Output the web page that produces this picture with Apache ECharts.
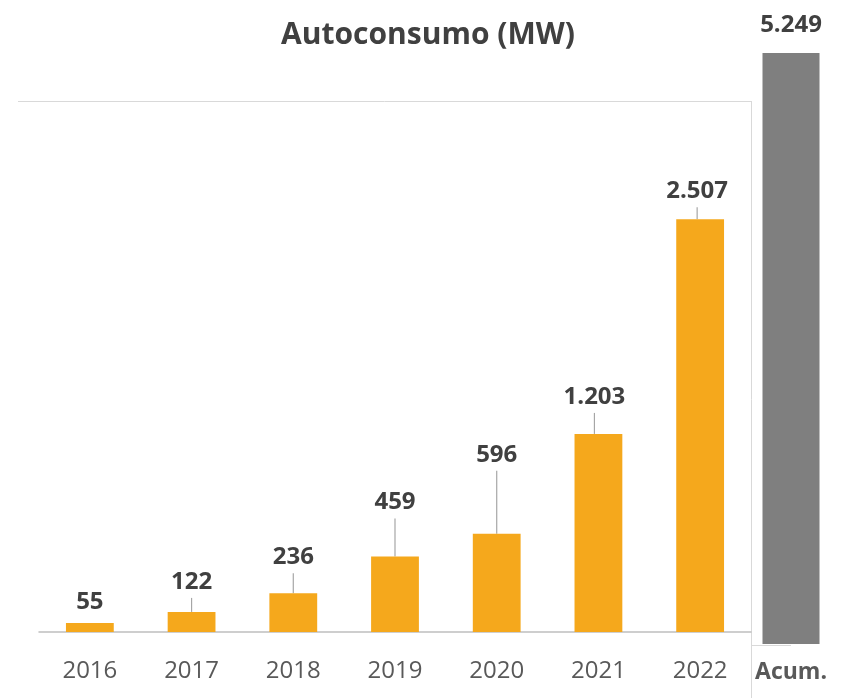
<!DOCTYPE html>
<html>
<head>
<meta charset="utf-8">
<script src="https://cdn.jsdelivr.net/npm/echarts@6/dist/echarts.min.js"></script>
<style>
html,body{margin:0;padding:0;background:#fff;}
#chart{width:841px;height:698px;}
</style>
</head>
<body>
<div id="chart"></div>
<script>
// ---- data ----
const titleText = 'Autoconsumo (MW)';
const categories = ['2016', '2017', '2018', '2019', '2020', '2021', '2022'];
const values = [55, 122, 236, 459, 596, 1203, 2507];
const accumCategory = ['Acum.'];
const accumValues = [5249];
// label placement (px) as in the reference (moved labels with leader lines)
const labelLift = [5, 14, 20, 38, 63, 21, 12];
const labelShift = [0, 0, 0, 0, 0, -4, -3];

function fmt(v) {
  return String(v).replace(/\B(?=(\d{3})+(?!\d))/g, '.');
}

const FONT = '"Open Sans", sans-serif';
const chart = echarts.init(document.getElementById('chart'));

const barData = values.map((v, i) => ({
  value: v,
  labelLine: { show: labelLift[i] > 8 }
}));

const option = {
  animation: false,
  backgroundColor: '#ffffff',
  title: {
    text: titleText,
    left: 423,
    textAlign: 'center',
    top: 15,
    textStyle: { fontFamily: FONT, fontSize: 30, fontWeight: 'bold', color: '#404040' }
  },
  grid: [
    { left: 39, right: 90, top: 101, bottom: 66, containLabel: false },
    { left: 751, width: 80, top: 53, bottom: 54, containLabel: false }
  ],
  xAxis: [
    {
      type: 'category', gridIndex: 0, data: categories,
      axisLine: { show: true, lineStyle: { color: '#BFBFBF', width: 1.5 } },
      axisTick: { show: false },
      axisLabel: { margin: 27, fontFamily: FONT, fontSize: 24, color: '#595959' }
    },
    {
      type: 'category', gridIndex: 1, data: accumCategory,
      axisLine: { show: false },
      axisTick: { show: false },
      axisLabel: { margin: 17, fontFamily: FONT, fontSize: 23, fontWeight: 'bold', color: '#595959' }
    }
  ],
  yAxis: [
    { type: 'value', gridIndex: 0, min: 0, max: 3225, show: false, splitLine: { show: false } },
    { type: 'value', gridIndex: 1, min: 0, max: 5249, show: false, splitLine: { show: false } }
  ],
  series: [
    {
      type: 'bar', xAxisIndex: 0, yAxisIndex: 0, data: barData,
      barWidth: '47%',
      itemStyle: { color: '#F5A81C' },
      label: {
        show: true, position: 'top', distance: 0,
        formatter: p => fmt(p.value),
        fontFamily: FONT, fontSize: 24, fontWeight: 'bold', color: '#404040',
        lineHeight: 32, padding: [4, 0, 0, 0]
      },
      labelLayout: p => ({ dy: -labelLift[p.dataIndex], dx: labelShift[p.dataIndex] }),
      labelLine: { show: true, lineStyle: { color: '#A6A6A6', width: 1.2 } }
    },
    {
      type: 'bar', xAxisIndex: 1, yAxisIndex: 1, data: accumValues,
      barWidth: 57,
      itemStyle: { color: '#7F7F7F' },
      label: {
        show: true, position: 'top', distance: 16,
        formatter: p => fmt(p.value),
        fontFamily: FONT, fontSize: 24, fontWeight: 'bold', color: '#404040', lineHeight: 24
      }
    }
  ],
  graphic: [
    { type: 'line', shape: { x1: 18, y1: 101.5, x2: 751, y2: 101.5 }, style: { stroke: '#D9D9D9', lineWidth: 1 } },
    { type: 'line', shape: { x1: 751.5, y1: 101, x2: 751.5, y2: 698 }, style: { stroke: '#D9D9D9', lineWidth: 1 } },
    { type: 'line', shape: { x1: 751, y1: 645.5, x2: 791, y2: 645.5 }, style: { stroke: '#D9D9D9', lineWidth: 1 } }
  ]
};
chart.setOption(option);
</script>
</body>
</html>
